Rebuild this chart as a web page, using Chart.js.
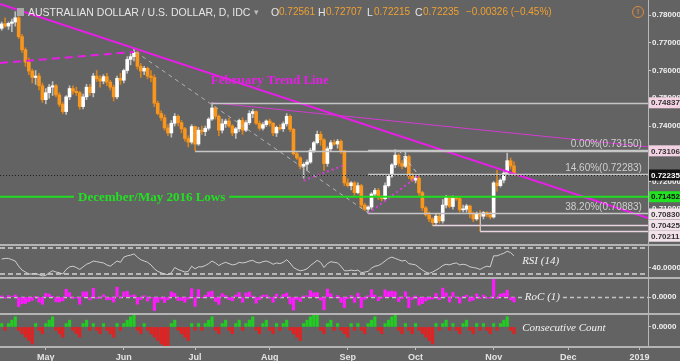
<!DOCTYPE html>
<html><head><meta charset="utf-8">
<script src="https://cdn.jsdelivr.net/npm/chart.js@4.4.1/dist/chart.umd.min.js"></script>
<style>
html,body{margin:0;padding:0;background:#636363;width:680px;height:361px;overflow:hidden;}
#wrap{position:relative;width:680px;height:361px;}
canvas{position:absolute;left:0;}
.hd{position:absolute;top:5px;font-family:'Liberation Sans',Arial,sans-serif;font-size:10.5px;line-height:14px;white-space:nowrap;color:#e6e6e6;}
.v{color:#f0a030;font-size:10px;}
</style></head><body>
<div id="wrap">
<canvas id="c1" width="680" height="246" style="top:0"></canvas>
<canvas id="c2" width="680" height="31" style="top:246px"></canvas>
<canvas id="c3" width="680" height="36" style="top:277px"></canvas>
<canvas id="c4" width="680" height="48" style="top:313px"></canvas>
<div class="hd" style="left:17px;top:8px;width:7px;height:8px;background:#a8a8a8"></div>
<div class="hd" style="left:28px">AUSTRALIAN DOLLAR / U.S. DOLLAR, D, IDC</div>
<div class="hd" style="left:254px;color:#bbbbbb;font-size:9px">▾</div>
<div class="hd" style="left:271px">O</div><div class="hd v" style="left:279px">0.72561</div>
<div class="hd" style="left:318px">H</div><div class="hd v" style="left:326px">0.72707</div>
<div class="hd" style="left:367px">L</div><div class="hd v" style="left:374px">0.72215</div>
<div class="hd" style="left:415px">C</div><div class="hd v" style="left:423px">0.72235</div>
<div class="hd v" style="left:466px">−0.00326 (−0.45%)</div>
<div style="position:absolute;left:632px;top:6px;width:10px;height:10px;border:1px solid #e08a3a;border-radius:50%;color:#e08a3a;font:bold 8px 'Liberation Sans',sans-serif;text-align:center;line-height:10px">!</div>
</div>
<script>
// ---------- DATA (daily AUD/USD, 12 Apr 2018 .. 9 Nov 2018, index = trading day) ----------
const monthTickIdx = [13, 36, 57, 79, 102, 122, 145, 167, 188];
const monthLabels  = ['May', 'Jun', 'Jul', 'Aug', 'Sep', 'Oct', 'Nov', 'Dec', '2019'];

const opens = [
0.7752,0.7768,0.7760,0.7770,0.7775,0.7790,0.7722,0.7675,0.7630,0.7598,
0.7575,0.7580,0.7545,0.7495,0.7520,0.7540,0.7545,0.7512,0.7478,0.7452,
0.7505,0.7535,0.7525,0.7520,0.7470,0.7505,0.7540,0.7520,0.7580,0.7570,
0.7562,0.7578,0.7558,0.7540,0.7505,0.7572,0.7565,0.7600,0.7640,0.7650,
0.7665,0.7615,0.7598,0.7608,0.7580,0.7575,0.7482,0.7445,0.7430,0.7393,
0.7375,0.7410,0.7435,0.7412,0.7390,0.7355,0.7342,0.7398,0.7335,0.7385,
0.7380,0.7392,0.7425,0.7465,0.7435,0.7385,0.7408,0.7418,0.7400,0.7375,
0.7390,0.7420,0.7385,0.7412,0.7445,0.7452,0.7410,0.7392,0.7405,0.7418,
0.7410,0.7375,0.7395,0.7390,0.7408,0.7435,0.7388,0.7300,0.7285,0.7255,
0.7262,0.7270,0.7312,0.7340,0.7370,0.7350,0.7265,0.7318,0.7340,0.7335,
0.7345,0.7310,0.7195,0.7185,0.7195,0.7160,0.7185,0.7115,0.7100,0.7108,
0.7155,0.7168,0.7145,0.7138,0.7185,0.7220,0.7260,0.7295,0.7265,0.7255,
0.7290,0.7220,0.7205,0.7212,0.7160,0.7105,0.7080,0.7065,0.7052,0.7075,
0.7058,0.7115,0.7142,0.7110,0.7140,0.7138,0.7098,0.7100,0.7112,0.7085,
0.7065,0.7085,0.7075,0.7088,0.7080,0.7072,0.7195,0.7185,0.7205,0.7230,0.7275,0.72561];
const highs = [
0.7775,0.7790,0.7775,0.7785,0.7812,0.7795,0.7730,0.7682,0.7645,0.7605,
0.7600,0.7590,0.7555,0.7535,0.7550,0.7560,0.7550,0.7520,0.7485,0.7510,
0.7545,0.7545,0.7540,0.7525,0.7515,0.7550,0.7550,0.7590,0.7600,0.7582,
0.7585,0.7590,0.7565,0.7548,0.7580,0.7590,0.7605,0.7650,0.7660,0.7677,
0.7670,0.7625,0.7615,0.7612,0.7600,0.7585,0.7490,0.7455,0.7440,0.7405,
0.7420,0.7445,0.7440,0.7420,0.7395,0.7365,0.7405,0.7400,0.7395,0.7400,
0.7400,0.7430,0.7484,0.7470,0.7440,0.7425,0.7425,0.7428,0.7405,0.7395,
0.7425,0.7430,0.7420,0.7455,0.7460,0.7455,0.7418,0.7412,0.7422,0.7425,
0.7412,0.7400,0.7405,0.7415,0.7445,0.7440,0.7392,0.7305,0.7290,0.7268,
0.7278,0.7320,0.7345,0.7382,0.7380,0.7355,0.7325,0.7348,0.7350,0.7352,
0.7350,0.7312,0.7210,0.7200,0.7200,0.7195,0.7190,0.7122,0.7112,0.7160,
0.7175,0.7175,0.7150,0.7195,0.7225,0.7265,0.7315,0.7300,0.7275,0.7305,
0.7295,0.7230,0.7220,0.7218,0.7165,0.7110,0.7090,0.7070,0.7085,0.7085,
0.7135,0.7150,0.7148,0.7148,0.7145,0.7142,0.7115,0.7118,0.7115,0.7090,
0.7090,0.7095,0.7092,0.7092,0.7090,0.7200,0.7240,0.7210,0.7240,0.7302,0.7285,0.72707];
const lows = [
0.7745,0.7755,0.7748,0.7740,0.7760,0.7715,0.7665,0.7615,0.7585,0.7555,
0.7550,0.7530,0.7485,0.7480,0.7500,0.7510,0.7505,0.7470,0.7445,0.7442,
0.7495,0.7515,0.7510,0.7460,0.7462,0.7495,0.7510,0.7505,0.7560,0.7540,
0.7552,0.7545,0.7530,0.7490,0.7498,0.7550,0.7555,0.7590,0.7620,0.7635,
0.7605,0.7575,0.7585,0.7570,0.7560,0.7470,0.7440,0.7420,0.7385,0.7365,
0.7360,0.7400,0.7400,0.7375,0.7345,0.7325,0.7335,0.7311,0.7330,0.7370,
0.7365,0.7385,0.7420,0.7425,0.7365,0.7375,0.7395,0.7395,0.7365,0.7355,
0.7380,0.7370,0.7380,0.7405,0.7430,0.7405,0.7385,0.7385,0.7398,0.7400,
0.7365,0.7362,0.7385,0.7380,0.7400,0.7380,0.7295,0.7280,0.7245,0.7212,
0.7240,0.7265,0.7305,0.7335,0.7330,0.7240,0.7255,0.7310,0.7330,0.7320,
0.7300,0.7185,0.7180,0.7170,0.7150,0.7155,0.7105,0.7095,0.7085,0.7100,
0.7145,0.7135,0.7130,0.7130,0.7180,0.7215,0.7250,0.7255,0.7245,0.7250,
0.7210,0.7200,0.7195,0.7150,0.7095,0.7075,0.7055,0.7042,0.7045,0.7050,
0.7050,0.7105,0.7105,0.7100,0.7132,0.7090,0.7090,0.7090,0.7070,0.7055,
0.7060,0.7021,0.7065,0.7072,0.7065,0.7068,0.7165,0.7180,0.7195,0.7225,0.7245,0.72215];
const closes = [
0.7768,0.7760,0.7770,0.7775,0.7790,0.7722,0.7675,0.7630,0.7598,0.7575,
0.7580,0.7545,0.7495,0.7520,0.7540,0.7545,0.7512,0.7478,0.7452,0.7505,
0.7535,0.7525,0.7520,0.7470,0.7505,0.7540,0.7520,0.7580,0.7570,0.7562,
0.7578,0.7558,0.7540,0.7505,0.7572,0.7565,0.7600,0.7640,0.7650,0.7665,
0.7615,0.7598,0.7608,0.7580,0.7575,0.7482,0.7445,0.7430,0.7393,0.7375,
0.7410,0.7435,0.7412,0.7390,0.7355,0.7342,0.7398,0.7335,0.7385,0.7380,
0.7392,0.7425,0.7465,0.7435,0.7385,0.7408,0.7418,0.7400,0.7375,0.7390,
0.7420,0.7385,0.7412,0.7445,0.7452,0.7410,0.7392,0.7405,0.7418,0.7410,
0.7375,0.7395,0.7390,0.7408,0.7435,0.7388,0.7300,0.7285,0.7255,0.7262,
0.7270,0.7312,0.7340,0.7370,0.7350,0.7265,0.7318,0.7340,0.7335,0.7345,
0.7310,0.7195,0.7185,0.7195,0.7160,0.7185,0.7115,0.7100,0.7108,0.7155,
0.7168,0.7145,0.7138,0.7185,0.7220,0.7260,0.7295,0.7265,0.7255,0.7290,
0.7220,0.7205,0.7212,0.7160,0.7105,0.7080,0.7065,0.7052,0.7075,0.7058,
0.7115,0.7142,0.7110,0.7140,0.7138,0.7098,0.7100,0.7112,0.7085,0.7065,
0.7085,0.7075,0.7088,0.7080,0.7072,0.7195,0.7185,0.7205,0.7230,0.7275,0.7256,0.72235];

const rsi14 = [
53,54,54,52,50,42,36,33,30,30, 31,29,27,28,32,35,33,32,30,37,
41,42,40,37,41,45,47,50,49,48, 47,44,42,46,50,48,56,58,59,61,
56,52,50,48,44,38,34,32,30,29, 32,40,37,35,33,34,42,38,41,41,
43,46,50,47,43,46,48,46,44,45, 48,47,48,50,51,48,47,49,50,48,
45,47,46,48,52,47,40,37,35,36, 38,43,47,51,48,40,46,49,48,47,
42,35,35,36,35,36,32,33,34,39, 42,43,46,50,54,56,54,52,50,51,
46,45,44,40,36,33,31,33,36,39, 43,45,44,46,47,44,45,44,41,40,
39,37,40,42,41,58,58,60,62,65, 63,58];
const roc1 = [
0.10,-0.11,0.13,0.06,0.19,-0.87,-0.61,-0.59,-0.42,-0.30,
0.07,-0.46,-0.66,0.33,0.27,0.07,-0.44,-0.45,-0.35,0.71,
0.40,-0.13,-0.07,-0.66,0.47,0.47,-0.27,0.80,-0.13,-0.11,
0.21,-0.26,-0.24,-0.46,0.89,-0.09,0.46,0.53,0.13,0.20,
-0.65,-0.22,0.13,-0.37,-0.07,-1.23,-0.49,-0.20,-0.50,-0.24,
0.47,0.34,-0.31,-0.30,-0.47,-0.18,0.76,-0.85,0.68,-0.07,
0.16,0.45,0.54,-0.40,-0.67,0.31,0.13,-0.24,-0.34,0.20,
0.41,-0.47,0.37,0.45,0.09,-0.56,-0.24,0.18,0.18,-0.11,
-0.47,0.27,-0.07,0.24,0.36,-0.63,-1.19,-0.21,-0.41,0.10,
0.11,0.58,0.38,0.41,-0.27,-1.16,0.73,0.30,-0.07,0.14,
-0.48,-0.95,-0.14,0.14,-0.49,0.35,-0.97,-0.21,0.11,0.66,
0.18,-0.32,-0.10,0.66,0.49,0.55,0.48,-0.41,-0.14,0.48,
-0.96,-0.21,0.10,-0.72,-0.60,-0.35,-0.21,-0.18,0.33,-0.24,
0.81,0.38,-0.45,0.42,-0.03,-0.56,0.03,0.17,-0.38,-0.28,
0.28,-0.14,0.18,-0.11,-0.11,1.60,-0.14,0.28,0.35,0.62,
-0.26,-0.45];
const consecCount = [
1,-1,1,2,3,-1,-2,-3,-4,-5, 1,-1,-2,1,2,3,-1,-2,-3,1,
2,-1,-2,-3,1,2,-1,1,-1,-2, 1,-1,-2,-3,1,-1,1,2,3,4,
-1,-2,1,-1,-2,-3,-4,-5,-6,-7, 1,2,-1,-2,-3,-4,1,-1,1,-1,
1,2,3,-1,-2,1,2,-1,-2,1, 2,-1,1,2,3,-1,-2,1,2,-1,
-2,1,-1,1,2,-1,-2,-3,-4,1, 2,3,4,5,-1,-2,1,2,-1,1,
-1,-2,-3,1,-1,1,-1,-2,1,2, 3,-1,-2,1,2,3,4,-1,-2,1,
-1,-2,1,-1,-2,-3,-4,-5,1,-1, 1,2,-1,1,-1,-2,1,2,-1,-2,
1,-1,1,-1,-2,1,-1,1,2,3, -1,-2];

// drawn studies, as [index, price] pairs
const febTrend   = [[-0.5, 0.78397], [190.5, 0.70685]];
const julTrend   = [[62, 0.7484], [190.5, 0.7325]];
const aprTrend   = [[-0.5, 0.7627], [39, 0.7667]];
const fibLeg     = [[39.5, 0.7667], [108, 0.7087]];
const augSupport = [[89, 0.7203], [101, 0.7259]];
const sepSupport = [[108, 0.7085], [123, 0.7222]];
const sepLeg     = [[117, 0.7313], [123, 0.7222]];

const levelPrices   = [0.74837, 0.73106, 0.73150, 0.72283, 0.70883, 0.70425, 0.70211];
const levelStartIdx = [62, 57, 108, 108, 108, 127, 141];
const fibPrices = [0.73150, 0.72283, 0.70883];
const fibLabels = ['0.00%(0.73150)', '14.60%(0.72283)', '38.20%(0.70883)'];
const supportPrice = 0.71452;
const supportLabel = 'December/May 2016 Lows';
const lastClose = 0.72235;
const trendLabel = 'February Trend Line';
const axisMarkers = [0.74837, 0.73106, 0.72235, 0.71452, 0.70830, 0.70425, 0.70211];
const priceTicks = [0.70, 0.71, 0.72, 0.73, 0.74, 0.75, 0.76, 0.77, 0.78];

// ---------- STYLE / LAYOUT ----------
const SANS = "'Liberation Sans', Arial, sans-serif";
const SERIF = "'Liberation Serif', 'Times New Roman', serif";
const UP = '#ffffff', DOWN = '#f8961e';

function xScale(show) {
  return {
    type: 'linear', min: -0.5, max: 190.5, offset: false, display: show,
    afterBuildTicks: s => { s.ticks = monthTickIdx.map(v => ({ value: v })); },
    afterFit: s => { if (show) s.height = 14; s.paddingLeft = 0; s.paddingRight = 0; },
    grid: { display: show, offset: false, drawOnChartArea: false, tickLength: 3, color: '#c0c0c0' },
    border: { display: show, color: '#b8b8b8', width: 2 },
    ticks: { autoSkip: false, maxRotation: 0, padding: 2, color: '#e4e4e4',
      font: { family: SANS, size: 9, weight: 'bold' },
      callback: v => { const k = monthTickIdx.indexOf(v); return k >= 0 ? monthLabels[k] : ''; } }
  };
}
function yScale(min, max, ticks, fmt) {
  return {
    position: 'right', min, max,
    afterBuildTicks: s => { s.ticks = ticks.map(v => ({ value: v })); },
    afterFit: s => { s.width = 32; s.paddingTop = 0; s.paddingBottom = 0; },
    grid: { drawOnChartArea: false, tickLength: 3, color: '#c8c8c8' },
    border: { color: '#b8b8b8', width: 1 },
    ticks: { autoSkip: false, padding: 1, color: '#f0f0f0',
      font: { family: SANS, size: 8, weight: 'bold' }, callback: v => fmt(v) }
  };
}
const base = { responsive: false, animation: false, events: [], layout: { padding: 0 },
  plugins: { legend: { display: false }, tooltip: { enabled: false } } };
const pts = arr => arr.map(p => ({ x: p[0], y: p[1] }));
function lineDs(arr, color, width, dash) {
  return { type: 'line', data: pts(arr), borderColor: color, borderWidth: width, borderDash: dash || [],
    pointRadius: 0, fill: false, tension: 0, order: 1 };
}
function sep(ctx, y) {
  ctx.save(); ctx.strokeStyle = '#b4b4b4'; ctx.lineWidth = 2;
  ctx.beginPath(); ctx.moveTo(0, y); ctx.lineTo(680, y); ctx.stroke(); ctx.restore();
}

// ---------- MAIN PRICE PANEL ----------
const up = closes.map((c, i) => c >= opens[i]);
const mainDecor = {
  id: 'mainDecor',
  afterDatasetsDraw(chart) {
    const { ctx, chartArea: a, scales: { x, y } } = chart;
    ctx.save();
    levelPrices.forEach((p, k) => {
      const py = Math.round(y.getPixelForValue(p)) + 0.5;
      ctx.strokeStyle = k >= 5 ? '#e8d3de' : '#c6c6c6'; ctx.lineWidth = 1.5;
      ctx.beginPath(); ctx.moveTo(x.getPixelForValue(levelStartIdx[k]), py); ctx.lineTo(a.right, py); ctx.stroke();
    });
    // connector from Sep low level to Oct low
    ctx.strokeStyle = '#c6c6c6'; ctx.lineWidth = 1;
    const cx = Math.round(x.getPixelForValue(levelStartIdx[6])) + 0.5;
    ctx.beginPath(); ctx.moveTo(cx, y.getPixelForValue(0.70883)); ctx.lineTo(cx, y.getPixelForValue(0.70211)); ctx.stroke();
    // last price dotted
    const ly = Math.round(y.getPixelForValue(lastClose)) + 0.5;
    ctx.strokeStyle = '#1e1e1e'; ctx.setLineDash([1, 2]); ctx.lineWidth = 1;
    ctx.beginPath(); ctx.moveTo(a.left, ly); ctx.lineTo(a.right, ly); ctx.stroke(); ctx.setLineDash([]);
    // support line with label
    const sy = y.getPixelForValue(supportPrice);
    ctx.font = 'bold 13px ' + SERIF; ctx.textBaseline = 'middle'; ctx.textAlign = 'center';
    const tcx = x.getPixelForValue(44.2);
    const tw = ctx.measureText(supportLabel).width;
    ctx.strokeStyle = '#20dd20'; ctx.lineWidth = 2;
    ctx.beginPath(); ctx.moveTo(a.left, sy); ctx.lineTo(tcx - tw / 2 - 4, sy);
    ctx.moveTo(tcx + tw / 2 + 4, sy); ctx.lineTo(a.right, sy); ctx.stroke();
    ctx.fillStyle = '#22e022'; ctx.fillText(supportLabel, tcx, sy + 1);
    // trend label
    ctx.fillStyle = '#e61ee6';
    ctx.fillText(trendLabel, x.getPixelForValue(79), y.getPixelForValue(0.7562));
    // fib labels
    ctx.font = '10px ' + SANS; ctx.fillStyle = '#cfcfcf'; ctx.textAlign = 'right';
    fibPrices.forEach((p, k) => ctx.fillText(fibLabels[k], x.getPixelForValue(188.7), y.getPixelForValue(p) - 5));
    ctx.restore();
  },
  afterDraw(chart) {
    const { ctx, scales: { y } } = chart;
    const bg = ['#f3d3e3', '#f3d3e3', '#111111', '#22e022', '#f2e2ea', '#f2e2ea', '#f2e2ea'];
    const fg = ['#333333', '#333333', '#ffffff', '#111111', '#333333', '#333333', '#333333'];
    ctx.save(); ctx.font = 'bold 8px ' + SANS; ctx.textBaseline = 'middle'; ctx.textAlign = 'left';
    let prev = -100;
    axisMarkers.forEach((p, k) => {
      let cy = y.getPixelForValue(p); if (cy < prev + 11) cy = prev + 11; prev = cy;
      ctx.fillStyle = bg[k]; ctx.fillRect(649, cy - 5.5, 31, 11);
      ctx.fillStyle = fg[k]; ctx.fillText(p.toFixed(5), 651, cy + 0.5);
    });
    ctx.restore();
    sep(ctx, 245);
  }
};
new Chart(document.getElementById('c1'), {
  type: 'bar',
  data: { datasets: [
    lineDs(febTrend, '#e81ee8', 2),
    lineDs(julTrend, '#d23cd2', 1),
    lineDs(aprTrend, '#e81ee8', 2, [8, 5]),
    lineDs(fibLeg, '#b4b4b4', 1, [4, 4]),
    lineDs(augSupport, '#d83cd8', 2, [2, 3]),
    lineDs(sepSupport, '#d83cd8', 2, [2, 3]),
    lineDs(sepLeg, '#c8c8c8', 1, [4, 4]),
    { type: 'bar', data: opens.map((o, i) => ({ x: i, y: [o, closes[i]] })),
      backgroundColor: up.map(u => u ? UP : DOWN), barThickness: 3, minBarLength: 1, grouped: false, order: 5 },
    { type: 'bar', data: highs.map((h, i) => ({ x: i, y: [lows[i], h] })),
      backgroundColor: up.map(u => u ? '#bdbdbd' : '#d9841c'), barThickness: 1, grouped: false, order: 6 }
  ] },
  options: Object.assign({}, base, {
    scales: { x: xScale(false), y: yScale(0.69676, 0.78541, priceTicks, v => v.toFixed(5)) }
  }),
  plugins: [mainDecor]
});

// ---------- RSI PANEL ----------
const rsiDecor = {
  id: 'rsiDecor',
  beforeDatasetsDraw(chart) {
    const { ctx, chartArea: a, scales: { y } } = chart;
    ctx.save(); ctx.strokeStyle = '#d4d4d4'; ctx.lineWidth = 1.5; ctx.setLineDash([5, 3]);
    [70, 30].forEach(v => { const py = y.getPixelForValue(v);
      ctx.beginPath(); ctx.moveTo(a.left, py); ctx.lineTo(a.right, py); ctx.stroke(); });
    ctx.restore();
  },
  afterDraw(chart) {
    const { ctx, scales: { x, y } } = chart;
    ctx.save(); ctx.font = 'italic 11px ' + SERIF; ctx.fillStyle = '#f2f2f2'; ctx.textBaseline = 'middle';
    ctx.fillText('RSI (14)', x.getPixelForValue(153.4), y.getPixelForValue(50)); ctx.restore();
  }
};
new Chart(document.getElementById('c2'), {
  type: 'line',
  data: { datasets: [{ data: rsi14.map((v, i) => ({ x: i, y: v })), borderColor: '#cfcfcf', borderWidth: 1,
    pointRadius: 0, tension: 0, fill: false }] },
  options: Object.assign({}, base, {
    scales: { x: xScale(false), y: yScale(25.4, 73.1, [40], v => v.toFixed(4)) }
  }),
  plugins: [rsiDecor]
});

// ---------- RoC PANEL ----------
const rocDecor = {
  id: 'rocDecor',
  beforeDatasetsDraw(chart) {
    const { ctx, chartArea: a, scales: { x, y } } = chart;
    ctx.save(); ctx.font = 'italic 11px ' + SERIF;
    const lx = x.getPixelForValue(154.2), tw = ctx.measureText('RoC (1)').width;
    const py = Math.round(y.getPixelForValue(0)) + 0.5;
    ctx.strokeStyle = '#c4c4c4'; ctx.lineWidth = 1.5; ctx.setLineDash([4, 3]);
    ctx.beginPath(); ctx.moveTo(a.left, py); ctx.lineTo(lx - 3, py); ctx.moveTo(lx + tw + 3, py); ctx.lineTo(a.right, py); ctx.stroke();
    ctx.restore();
  },
  afterDraw(chart) {
    const { ctx, scales: { x, y } } = chart;
    ctx.save(); ctx.font = 'italic 11px ' + SERIF; ctx.fillStyle = '#f2f2f2'; ctx.textBaseline = 'middle';
    ctx.fillText('RoC (1)', x.getPixelForValue(154.2), y.getPixelForValue(0)); ctx.restore();
    sep(ctx, 1);
  }
};
new Chart(document.getElementById('c3'), {
  type: 'bar',
  data: { datasets: [{ data: roc1.map((v, i) => ({ x: i, y: v })), backgroundColor: '#ff19ff',
    barThickness: 2.5, grouped: false }] },
  options: Object.assign({}, base, {
    scales: { x: xScale(false), y: yScale(-1.45, 1.82, [0], v => v.toFixed(4)) }
  }),
  plugins: [rocDecor]
});

// ---------- CONSECUTIVE COUNT PANEL ----------
const cntDecor = {
  id: 'cntDecor',
  afterDraw(chart) {
    const { ctx, chartArea: a, scales: { x, y } } = chart;
    ctx.save(); ctx.font = 'italic 11px ' + SERIF; ctx.fillStyle = '#f2f2f2'; ctx.textBaseline = 'middle';
    ctx.fillText('Consecutive Count', x.getPixelForValue(153.4), y.getPixelForValue(-0.2)); ctx.restore();
    sep(ctx, 1);
    sep(ctx, a.bottom);
  }
};
new Chart(document.getElementById('c4'), {
  type: 'bar',
  data: { datasets: [{ data: consecCount.map((v, i) => ({ x: i, y: v })),
    backgroundColor: consecCount.map(v => v > 0 ? '#22cc22' : '#e02222'), barThickness: 2.5, grouped: false }] },
  options: Object.assign({}, base, {
    scales: { x: xScale(true), y: yScale(-5.9, 4.1, [0], v => v.toFixed(4)) }
  }),
  plugins: [cntDecor]
});
</script>
</body></html>
